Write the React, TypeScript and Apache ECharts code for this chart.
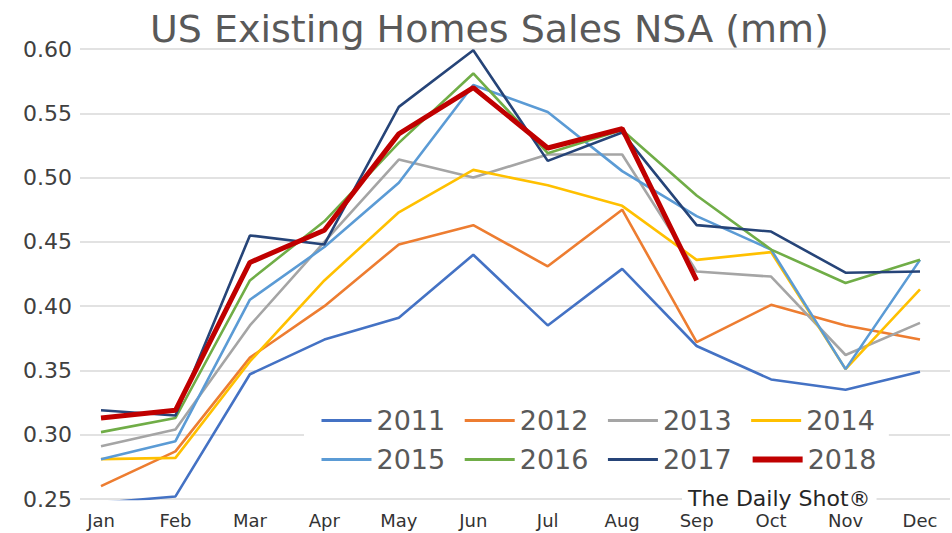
import React, { useEffect, useRef } from "react";
import * as echarts from "echarts";

const months = ["Jan", "Feb", "Mar", "Apr", "May", "Jun", "Jul", "Aug", "Sep", "Oct", "Nov", "Dec"];
const years = ["2011", "2012", "2013", "2014", "2015", "2016", "2017", "2018"];
const yearColors = ["#4472C4", "#ED7D31", "#A5A5A5", "#FFC000", "#5B9BD5", "#70AD47", "#264478", "#C00000"];

const s2011 = [0.247, 0.252, 0.347, 0.374, 0.391, 0.440, 0.385, 0.429, 0.369, 0.343, 0.335, 0.349];
const s2012 = [0.260, 0.287, 0.360, 0.400, 0.448, 0.463, 0.431, 0.475, 0.372, 0.401, 0.385, 0.374];
const s2013 = [0.291, 0.304, 0.385, 0.450, 0.514, 0.500, 0.518, 0.518, 0.427, 0.423, 0.362, 0.387];
const s2014 = [0.281, 0.282, 0.357, 0.420, 0.473, 0.506, 0.494, 0.478, 0.436, 0.442, 0.351, 0.413];
const s2015 = [0.281, 0.295, 0.405, 0.446, 0.496, 0.572, 0.551, 0.505, 0.470, 0.444, 0.351, 0.436];
const s2016 = [0.302, 0.313, 0.420, 0.466, 0.527, 0.581, 0.519, 0.537, 0.486, 0.444, 0.418, 0.436];
const s2017 = [0.319, 0.315, 0.455, 0.448, 0.555, 0.599, 0.513, 0.535, 0.463, 0.458, 0.426, 0.427];
const s2018 = [0.313, 0.319, 0.434, 0.459, 0.534, 0.570, 0.523, 0.538, 0.420];

const yMin = 0.25;
const yMax = 0.6;
const yStep = 0.05;

const FONT = "DejaVu Sans";

export default function App() {
  const ref = useRef<HTMLDivElement>(null);

  useEffect(() => {
    if (!ref.current) return;
    const chart = echarts.init(ref.current, null, { renderer: "svg" });
    const seriesValues = [s2011, s2012, s2013, s2014, s2015, s2016, s2017, s2018];

    const legendItems = years.map((y) => ({
      name: y,
      lineStyle: { width: y === "2018" ? 6 : 3 },
    }));

    const legendCommon = {
      orient: "horizontal" as const,
      itemWidth: 50,
      itemHeight: 14,
      itemGap: 18,
      backgroundColor: "#ffffff",
      padding: [5, 14, 5, 16],
      itemStyle: { opacity: 0 },
      textStyle: { fontFamily: FONT, fontSize: 27, color: "#595959" },
      z: 10,
    };

    chart.setOption({
      animation: false,
      backgroundColor: "#ffffff",
      title: {
        text: "US Existing Homes Sales NSA (mm)",
        left: 150,
        top: 10,
        padding: 0,
        textStyle: { fontFamily: FONT, fontSize: 38, fontWeight: "normal", color: "#595959" },
      },
      grid: [
        { left: 80, right: 2, top: 49, bottom: 34 },
        { left: 101, right: 32, top: 49, bottom: 34 },
      ],
      xAxis: [
        { gridIndex: 0, type: "value", show: false, min: 0, max: 1 },
        {
          gridIndex: 1,
          type: "category",
          boundaryGap: false,
          data: months,
          axisLine: { show: false },
          axisTick: { show: false },
          axisLabel: { fontFamily: FONT, fontSize: 18, color: "#333333", margin: 12, interval: 0 },
        },
      ],
      yAxis: [
        {
          gridIndex: 0,
          type: "value",
          min: yMin,
          max: yMax,
          interval: yStep,
          axisLine: { show: false },
          axisTick: { show: false },
          axisLabel: {
            fontFamily: FONT,
            fontSize: 22,
            color: "#404040",
            margin: 8,
            formatter: (v: number) => v.toFixed(2),
          },
          splitLine: { lineStyle: { color: "#d9d9d9", width: 1.5 } },
        },
        { gridIndex: 1, type: "value", min: yMin, max: yMax, show: false, splitLine: { show: false } },
      ],
      legend: [
        { ...legendCommon, data: legendItems.slice(0, 4), left: 304, top: 402 },
        { ...legendCommon, data: legendItems.slice(4), left: 304, top: 441 },
      ],
      graphic: [
        {
          type: "text",
          left: 682,
          top: 486,
          z: 20,
          style: {
            text: "The Daily Shot®",
            font: `22px '${FONT}'`,
            fill: "#262626",
            backgroundColor: "#ffffff",
            padding: [1, 6, 1, 6],
          },
        },
      ],
      series: years.map((y, i) => ({
        name: y,
        type: "line",
        xAxisIndex: 1,
        yAxisIndex: 1,
        data: seriesValues[i],
        symbol: "none",
        color: yearColors[i],
        lineStyle: { width: y === "2018" ? 5 : 2.6, color: yearColors[i] },
        z: 2 + i,
      })),
    });

    return () => chart.dispose();
  }, []);

  return <div ref={ref} style={{ position: "fixed", left: 0, top: 0, width: 952, height: 533 }} />;
}
